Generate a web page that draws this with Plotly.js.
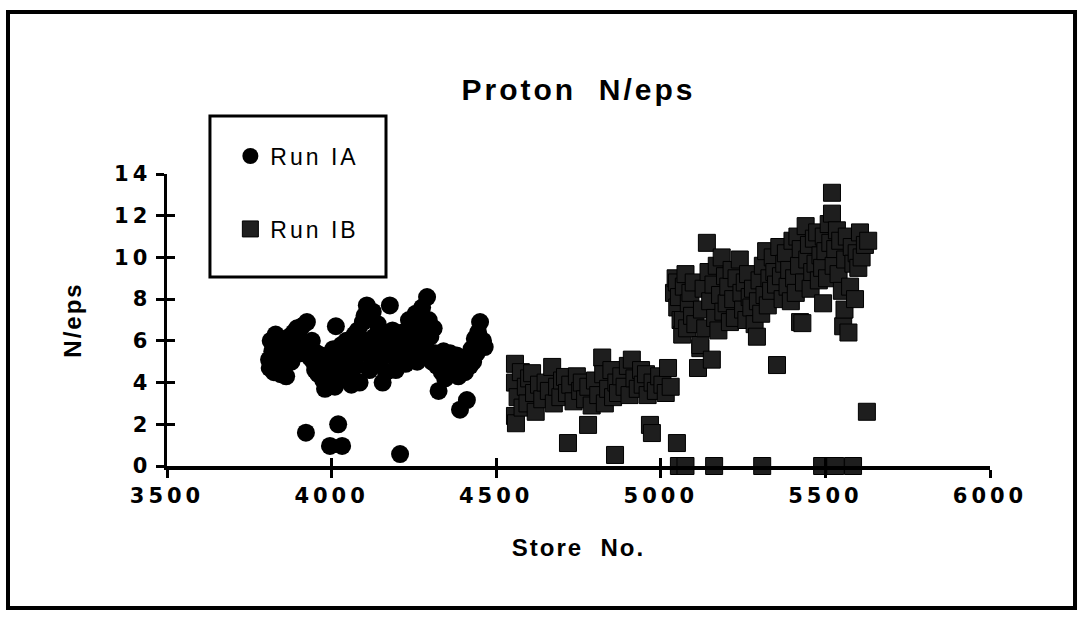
<!DOCTYPE html>
<html>
<head>
<meta charset="utf-8">
<script src="https://cdn.plot.ly/plotly-3.0.1.min.js"></script>
<style>
  html, body { margin: 0; padding: 0; background: #fff; }
  #chart { width: 1081px; height: 619px; }
  .xtick text, .ytick text { letter-spacing: 4px; }
  .gtitle { letter-spacing: 3px; }
  .xtitle, .ytitle { letter-spacing: 2px; }
  .legendtext { letter-spacing: 3px; }
</style>
</head>
<body>
<div id="chart"></div>
<script>
// ---- Data ----
const seriesNames = ["Run IA", "Run IB"];

const iaStore = [
  3810, 3812, 3815, 3820, 3825, 3830, 3835, 3840, 3845, 3850, 3855, 3860, 3862, 3868, 3872, 3878,
  3885, 3890, 3895, 3900, 3905, 3910, 3915, 3925, 3930, 3935, 3940, 3945,
  3950, 3955, 3960, 3965, 3970, 3975, 3980, 3985, 3990, 3995, 4000, 4005, 4013, 4010, 4015, 4020, 4025, 4030, 4035, 4040, 4045,
  4050, 4055, 4060, 4065, 4070, 4075, 4080, 4085, 4090, 4095, 4100, 4107, 4110, 4115, 4120, 4125, 4130, 4135, 4140, 4145,
  4150, 4155, 4160, 4165, 4170, 4177, 4180, 4185, 4190, 4195, 4200, 4205, 4210, 4215, 4220, 4225, 4230, 4235, 4240, 4245,
  4250, 4255, 4260, 4265, 4270, 4275, 4280, 4285, 4290, 4295, 4300, 4305, 4310, 4315, 4320, 4325, 4330, 4335, 4340, 4345,
  4350, 4355, 4360, 4365, 4370, 4375, 4380, 4385, 4390, 4395, 4400, 4405, 4411, 4415, 4420, 4425, 4430, 4435, 4440, 4445,
  4451, 4455, 4460, 4465,
  3922, 3995, 4032, 4020, 4208
];
const iaNeps = [
  5.1, 4.7, 6.0, 5.5, 4.5, 6.3, 5.0, 5.8, 4.4, 5.3, 6.0, 4.9, 4.3, 5.6, 6.2, 5.0,
  6.4, 5.7, 6.6, 6.2, 5.4, 6.7, 5.9, 6.9, 5.6, 5.2, 6.0, 5.0,
  4.6, 5.4, 4.4, 5.0, 5.3, 4.1, 3.7, 4.6, 3.9, 5.2, 4.4, 5.6, 6.7, 3.8, 4.9, 5.4, 4.2, 5.8, 4.6, 5.5, 6.0,
  4.3, 5.2, 3.9, 5.7, 6.3, 4.8, 6.5, 4.0, 5.5, 6.9, 7.2, 7.7, 6.0, 4.6, 5.2, 7.4, 6.2, 5.6, 6.8, 5.0,
  6.3, 4.0, 5.8, 4.5, 6.0, 7.7, 5.3, 6.5, 5.6, 4.6, 6.2, 5.0, 5.8, 6.4, 5.5, 4.9, 6.1, 7.0, 5.3, 6.6,
  5.9, 7.3, 5.0, 6.7, 5.5, 7.6, 6.3, 5.7, 8.1, 7.0, 6.2, 5.0, 6.6, 5.4, 4.8, 3.6, 5.2, 4.5, 5.5, 4.2,
  5.0, 4.7, 5.4, 4.4, 5.1, 4.8, 5.3, 4.3, 2.7, 4.6, 5.0, 4.5, 3.16, 5.2, 4.8, 5.6, 5.0, 6.1, 5.4, 6.4,
  6.9, 5.8, 6.0, 5.7,
  1.6, 0.96, 0.96, 2.0, 0.57
];

const ibStore = [
  4557, 4557, 4557, 4560, 4565, 4575, 4580, 4590, 4595, 4600, 4609, 4615, 4620, 4630, 4640, 4650, 4660, 4670, 4675, 4685,
  4695, 4700, 4709, 4715, 4718, 4725, 4735, 4745, 4755, 4760, 4770, 4779, 4780, 4790, 4800, 4810, 4822, 4825, 4830, 4840,
  4850, 4855, 4861, 4865, 4870, 4880, 4890, 4900, 4905, 4912, 4920, 4930, 4940, 4945, 4955, 4960, 4967, 4973, 4975, 4985,
  4995, 5005, 5015, 5022, 5030, 5049, 5055, 5075,
  5040, 5045, 5049, 5050, 5055, 5060, 5065, 5067, 5070, 5075, 5080, 5085, 5090, 5095, 5100, 5105, 5113, 5120, 5120, 5125,
  5130, 5135, 5140, 5145, 5150, 5155, 5160, 5165, 5170, 5175, 5180, 5185, 5190, 5195, 5200, 5205, 5210, 5215, 5220, 5225,
  5230, 5240, 5245, 5250, 5255, 5260, 5265, 5270, 5275, 5280, 5285, 5292, 5295, 5300, 5305, 5310, 5315, 5320, 5325, 5330,
  5335, 5340, 5345, 5350, 5353, 5360, 5365, 5370, 5375, 5380, 5385, 5390, 5395, 5400, 5405, 5410, 5415, 5420, 5423, 5425,
  5430, 5435, 5440, 5445, 5450, 5455, 5460, 5465, 5470, 5475, 5480, 5485, 5490, 5493, 5495, 5500, 5505, 5510, 5515, 5520,
  5520, 5525, 5530, 5535, 5540, 5545, 5550, 5554, 5558, 5560, 5565, 5570, 5575, 5580, 5585, 5590, 5595, 5600, 5605, 5610,
  5620, 5630, 5626,
  5162, 5308, 5490, 5530, 5584
];
const ibNeps = [
  4.9, 4.0, 2.4, 2.05, 3.3, 4.5, 2.8, 3.8, 3.0, 4.2, 4.45, 3.5, 2.6, 3.9, 3.2, 4.0, 3.6, 4.75, 3.0, 3.8,
  3.3, 4.1, 4.27, 3.5, 1.1, 3.9, 3.1, 4.3, 3.6, 4.0, 3.2, 1.97, 3.8, 2.9, 4.1, 3.4, 5.2, 4.4, 3.0, 3.7,
  4.6, 3.3, 0.53, 4.0, 3.5, 4.3, 3.8, 4.8, 3.4, 5.1, 4.2, 3.7, 4.6, 3.9, 4.4, 3.4, 1.97, 1.58, 4.0, 3.6,
  4.3, 3.9, 3.5, 4.7, 3.8, 1.1, 0, 0,
  8.3, 9.0, 8.8, 7.6, 8.1, 7.0, 6.3, 7.0, 8.6, 9.2, 6.6, 7.8, 8.3, 7.2, 8.8, 6.8, 4.7, 5.65, 5.8, 7.5,
  8.5, 6.6, 10.7, 9.3, 7.9, 5.1, 8.7, 7.1, 9.6, 6.5, 8.2, 10.0, 7.4, 9.1, 7.8, 8.6, 6.9, 9.4, 8.0, 7.1,
  9.0, 9.9, 8.3, 7.5, 8.8, 7.0, 9.2, 8.1, 7.6, 8.5, 6.8, 6.2, 7.9, 8.9, 7.3, 9.6, 8.2, 10.3, 7.7, 9.0,
  8.4, 10.0, 9.3, 8.7, 4.84, 10.5, 9.1, 8.0, 9.7, 10.2, 8.6, 9.4, 7.9, 10.8, 9.0, 8.3, 11.0, 9.6, 6.9, 10.4,
  6.85, 8.8, 11.5, 9.9, 10.6, 8.5, 9.3, 10.9, 9.7, 11.2, 8.9, 10.1, 9.5, 7.8, 11.0, 10.3, 9.0, 11.6, 10.7, 13.1,
  12.1, 9.6, 10.4, 11.3, 9.2, 10.8, 8.4, 6.7, 7.5, 9.9, 11.0, 6.4, 8.6, 10.5, 9.7, 8.0, 10.2, 9.5, 11.2, 10.0,
  10.6, 10.8, 2.6,
  0, 0, 0, 0, 0
];

const xTicks = [3500, 4000, 4500, 5000, 5500, 6000];
const yTicks = [0, 2, 4, 6, 8, 10, 12, 14];

// ---- Plot ----
const tickFont = { family: "DejaVu Sans, Liberation Sans, Arial", size: 21, color: "#000", weight: "bold" };
const titleFont = { family: "Liberation Sans, Arial", size: 24, color: "#000", weight: "bold" };

const traces = [
  {
    type: "scatter", mode: "markers", name: seriesNames[0],
    x: iaStore, y: iaNeps, cliponaxis: false, legendgroup: "a",
    marker: { symbol: "circle", size: 18, color: "#000", line: { width: 0 } }
  },
  {
    type: "scatter", mode: "markers", name: seriesNames[1],
    x: ibStore, y: ibNeps, cliponaxis: false, legendgroup: "b",
    marker: { symbol: "square", size: 17, color: "#1e1e1e", line: { width: 1, color: "#000" } }
  },
  {
    // helper trace without visible points so the overlay axes (inner half of the crossing ticks) are drawn
    type: "scatter", mode: "markers", x: [null], y: [null], xaxis: "x2", yaxis: "y2",
    showlegend: false, hoverinfo: "skip", marker: { opacity: 0 }
  }
];

const axisCommon = {
  showgrid: false, zeroline: false, showline: true, linecolor: "#000", linewidth: 3.5,
  ticks: "outside", ticklen: 8, tickwidth: 3, tickcolor: "#000", tickfont: tickFont
};

const layout = {
  width: 1081, height: 619,
  margin: { l: 167, r: 91, t: 174, b: 153 },
  paper_bgcolor: "#fff", plot_bgcolor: "#fff",
  title: {
    text: "Proton\u00a0\u00a0N/eps",
    font: { family: "Liberation Sans, Arial", size: 30, color: "#000", weight: "bold" },
    x: 0.5, xref: "paper", xanchor: "center",
    y: 1 - 89 / 619, yref: "container", yanchor: "middle"
  },
  xaxis: Object.assign({}, axisCommon, {
    range: [3500, 6000], tickvals: xTicks, ticktext: xTicks.map(String),
    title: { text: "Store\u00a0\u00a0No.", font: titleFont, standoff: 33 }
  }),
  yaxis: Object.assign({}, axisCommon, {
    range: [0, 14], tickvals: yTicks, ticktext: yTicks.map(String),
    title: { text: "N/eps", font: titleFont, standoff: 26 }
  }),
  xaxis2: {
    overlaying: "x", anchor: "y2", side: "bottom", range: [3500, 6000], tickvals: xTicks,
    showticklabels: false, showgrid: false, zeroline: false, showline: false,
    ticks: "inside", ticklen: 8, tickwidth: 3, tickcolor: "#000"
  },
  yaxis2: {
    overlaying: "y", anchor: "x2", side: "left", range: [0, 14], tickvals: yTicks,
    showticklabels: false, showgrid: false, zeroline: false, showline: false,
    ticks: "inside", ticklen: 8, tickwidth: 3, tickcolor: "#000"
  },
  showlegend: true,
  legend: {
    x: 0.077, y: 1.135, xanchor: "left", yanchor: "top",
    bgcolor: "rgba(0,0,0,0)", borderwidth: 0,
    font: { family: "Liberation Sans, Arial", size: 23, color: "#000" },
    tracegroupgap: 40, itemsizing: "trace"
  },
  shapes: [
    { type: "rect", xref: "paper", yref: "paper", x0: -0.1932, x1: 1.1033, y0: -0.4863, y1: 1.5548,
      line: { color: "#000", width: 4 }, fillcolor: "rgba(0,0,0,0)", layer: "below" },
    { type: "rect", xref: "paper", yref: "paper", x0: 0.0522, x1: 0.2661, y0: 0.6473, y1: 1.1986,
      line: { color: "#000", width: 3 }, fillcolor: "#fff", layer: "below" }
  ]
};

Plotly.newPlot("chart", traces, layout, { staticPlot: true, displayModeBar: false });
</script>
</body>
</html>
